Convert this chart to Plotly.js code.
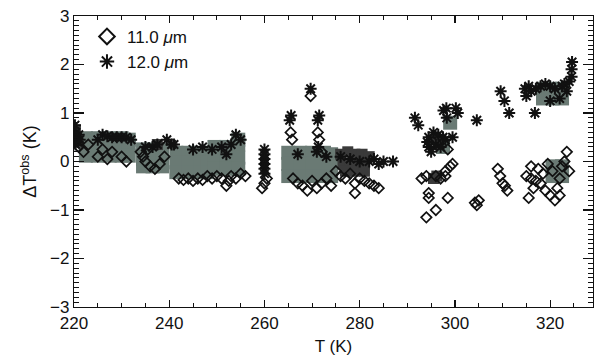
<!DOCTYPE html>
<html>
<head>
<meta charset="utf-8">
<script src="https://cdn.plot.ly/plotly-3.0.1.min.js"></script>
<style>html,body{margin:0;padding:0;background:#fff;}#chart{width:596px;height:358px;}</style>
</head>
<body>
<div id="chart"></div>
<script>
// 11.0 um (open diamonds)
var t11 = [220.5,221,222,223,225,227,228,230,231,226,
  234,234.5,235,236,237,238,239,235.5,
  242,243,244,245,246,247,248,249,250,251,
  252,252.5,253,254,255,256,
  259.5,260,260.5,
  266,267,268,269,270,271,272,273,274,269.7,265.5,271.2,271.5,265.8,272,
  275,276,277,278,279,280,281,282,283,284,279,
  293,294,294.5,294.5,296,294,298.5,297,296,298,299,298.5,299.5,298,
  304.2,304.6,305,
  309.5,310,311,310.5,309,
  315,316,317,316.5,318,319,320,321,322,321.5,323.5,323,322.5,320.5,319.5,318.5,317.5,316,322,324,315.5];
var d11 = [0.45,0.3,0.2,0.35,0.1,0.05,0.2,0.1,0.0,0.25,
  0.2,0.1,0.0,-0.1,-0.15,-0.05,0.1,0.25,
  -0.35,-0.38,-0.35,-0.4,-0.35,-0.38,-0.3,-0.35,-0.3,-0.35,
  -0.5,-0.4,-0.3,-0.35,-0.25,-0.3,
  -0.55,-0.45,-0.35,
  -0.35,-0.45,-0.5,-0.6,-0.4,-0.55,-0.45,-0.35,-0.5,1.35,0.6,0.6,0.45,0.45,0.2,
  -0.2,-0.3,-0.35,-0.25,-0.45,-0.35,-0.4,-0.45,-0.5,-0.55,-0.65,
  -0.35,-0.3,-0.65,-0.75,-1.0,-1.15,-0.75,-0.35,-0.3,-0.2,-0.1,0.25,-0.05,-0.3,
  -0.85,-0.9,-0.8,
  -0.3,-0.45,-0.6,-0.5,-0.15,
  -0.3,-0.35,-0.4,-0.55,-0.45,-0.6,-0.7,-0.8,-0.7,-0.55,0.2,0.0,-0.1,-0.2,-0.05,-0.25,-0.15,-0.1,-0.35,-0.2,-0.75];

// 12.0 um (asterisks)
var t12 = [220.2,220.4,220.6,220.8,221,220.3,221.2,
  226,227,228,229,230,231,232,225,
  236.5,237.5,239.5,240.5,241,235,
  245,247,249,251,253,254,255,252,
  260,260,260,260,260,260,
  265.3,265.6,269.7,271.2,271.5,271.3,271,267,273,
  276,278,280,282,283,284,285,287,
  291.6,292.3,297.6,298.2,298.3,300.2,300.6,294.5,295.5,296.5,297.5,299.5,294.5,295,296,297,298,294.2,
  304.6,
  309.6,310.4,311.4,
  314.7,315,315.5,316,317,316.8,318,319,320,321,322.5,323,324,324.5,324.5,324.6,323.5,322,320];
var d12 = [0.75,0.6,0.5,0.4,0.55,0.35,0.45,
  0.55,0.52,0.5,0.5,0.5,0.5,0.45,0.45,
  0.3,0.35,0.45,0.35,0.35,0.3,
  0.25,0.3,0.25,0.3,0.35,0.55,0.45,0.15,
  0.25,0.15,0.05,-0.05,-0.15,-0.25,
  0.85,0.95,1.5,0.85,0.95,0.3,0.2,0.15,0.1,
  0.1,0.05,0.0,0.0,0.05,-0.05,0.0,0.0,
  0.9,0.75,1.05,1.1,0.9,1.1,1.0,0.5,0.6,0.55,0.5,0.5,0.3,0.2,0.35,0.3,0.45,0.4,
  0.85,
  1.45,1.25,1.0,
  1.5,1.35,1.55,1.45,1.5,1.0,1.55,1.6,1.55,1.5,1.55,1.6,1.65,1.75,1.9,2.05,1.45,1.3,1.25];

// dense overlapping clusters (gray shading)
var tGray = [222.5,225,227.5,230,231.5,222.5,225,227.5,230,231.5,222.5,225,227.5,230,231.5,
  234.5,236.5,238.5,234.5,236.5,238.5,234.5,236.5,238.5,
  241.5,244,246.5,248,241.5,244,246.5,248,241.5,244,246.5,248,
  249.5,252,254.5,249.5,252,254.5,249.5,252,254.5,254.5,
  265,267.5,270,272.5,274,265,267.5,270,272.5,274,265,267.5,270,272.5,274,
  297.5,299,
  318.5,320.5,322.5,318.5,320.5,322.5,
  320.5,322.5,320.5,322.5];
var dGray = [0.48,0.48,0.48,0.48,0.45,0.3,0.3,0.3,0.3,0.3,0.12,0.12,0.12,0.12,0.12,
  0.25,0.25,0.25,0.05,0.05,0.05,-0.1,-0.1,-0.1,
  0.18,0.18,0.18,0.18,-0.02,-0.02,-0.02,-0.02,-0.22,-0.22,-0.22,-0.22,
  0.3,0.3,0.35,0.08,0.08,0.08,-0.15,-0.15,-0.15,0.45,
  0.18,0.18,0.18,0.18,0.15,-0.05,-0.05,-0.05,-0.05,-0.05,-0.3,-0.3,-0.3,-0.3,-0.3,
  0.3,0.8,
  1.5,1.5,1.5,1.3,1.3,1.3,
  -0.1,-0.1,-0.3,-0.3];

// solid dark piles
var tDark = [220.3,220.5,220.7,237.5,276,277.5,279,280.5,282,276.5,278,279.5,281,277,279,281,295.5,296.2,296.5,295.8];
var dDark = [0.65,0.5,0.4,0.35,0.15,0.2,0.15,0.15,0.1,-0.05,-0.05,0.0,-0.05,-0.2,-0.2,-0.2,-0.35,-0.3,0.35,0.45];

var font = 'Liberation Sans, Arial, sans-serif';

var traces = [
  {x: tGray, y: dGray, mode: 'markers', type: 'scatter', showlegend: false, hoverinfo: 'skip',
   marker: {symbol: 'square', size: 14, color: '#6a7a74', opacity: 1, line: {width: 0}}},
  {x: tDark, y: dDark, mode: 'markers', type: 'scatter', showlegend: false, hoverinfo: 'skip',
   marker: {symbol: 'square', size: 11, color: '#3a3a3a', line: {width: 0}}},
  {x: t11, y: d11, mode: 'markers', type: 'scatter', name: '11.0 <i>μ</i>m',
   marker: {symbol: 'diamond-open', size: 8, color: '#111', line: {width: 1.7, color: '#111'}}},
  {x: t12, y: d12, mode: 'markers', type: 'scatter', name: '12.0 <i>μ</i>m',
   marker: {symbol: 'asterisk-open', size: 10, color: '#111', line: {width: 2, color: '#111'}}}
];

var axisCommon = {
  showline: true, linecolor: '#111', linewidth: 1.2, mirror: 'ticks',
  ticks: 'inside', tickcolor: '#111', tickwidth: 1.2,
  showgrid: false, zeroline: false,
  tickfont: {family: font, size: 17, color: '#111'}
};

var layout = {
  width: 596, height: 358,
  margin: {l: 74, r: 3, t: 16, b: 51},
  paper_bgcolor: '#fff', plot_bgcolor: '#fff',
  showlegend: true,
  legend: {x: 0.025, y: 0.99, xanchor: 'left', yanchor: 'top', bgcolor: 'rgba(0,0,0,0)',
    font: {family: font, size: 17, color: '#111'}, itemsizing: 'constant', tracegroupgap: 0},
  xaxis: Object.assign({}, axisCommon, {
    range: [220, 329], dtick: 20, tick0: 220, ticklen: 7,
    minor: {dtick: 5, ticklen: 4, ticks: 'inside', tickcolor: '#111', tickwidth: 1},
    title: {text: 'T (K)', font: {family: font, size: 17, color: '#111'}, standoff: 8}
  }),
  yaxis: Object.assign({}, axisCommon, {
    range: [-3, 3], dtick: 1, tick0: 0, ticklen: 10,
    minor: {dtick: 0.1, ticklen: 5, ticks: 'inside', tickcolor: '#111', tickwidth: 1},
    title: {text: 'ΔT<sup>obs</sup> (K)', font: {family: font, size: 18, color: '#111'}, standoff: 8}
  })
};

Plotly.newPlot('chart', traces, layout, {displayModeBar: false, staticPlot: true});
</script>
</body>
</html>
